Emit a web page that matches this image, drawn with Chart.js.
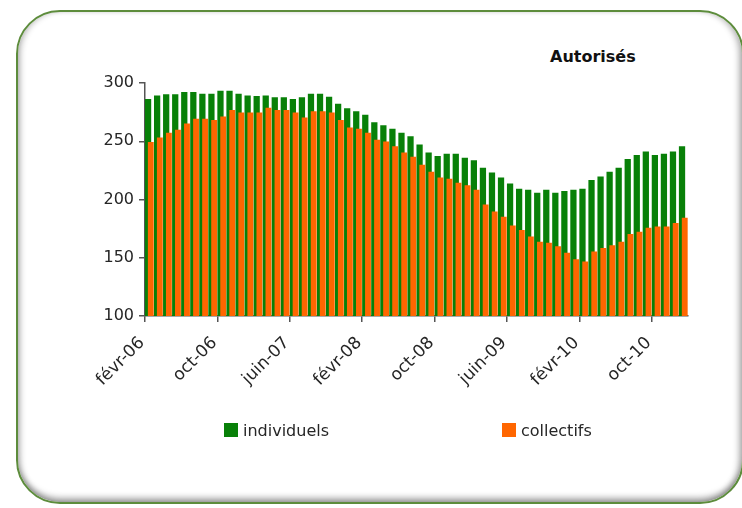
<!DOCTYPE html>
<html>
<head>
<meta charset="utf-8">
<script src="https://cdn.jsdelivr.net/npm/chart.js@4.4.0/dist/chart.umd.min.js"></script>
<style>
  html, body { margin: 0; padding: 0; background: #fff; }
  body { width: 742px; height: 508px; position: relative; overflow: hidden; font-family: "DejaVu Sans", sans-serif; color: #262626; }
  .frame {
    position: absolute; left: 16px; top: 10px; width: 728px; height: 494px;
    border: 2px solid #5d8c3c; border-radius: 44px; box-sizing: border-box;
    box-shadow: inset 0 -7px 6px -3px rgba(0,0,0,0.35), inset 5px 0 6px -3px rgba(0,0,0,0.3), inset -6px 0 6px -3px rgba(0,0,0,0.3);
  }
  .title { position: absolute; left: 550px; top: 47px; font-weight: bold; font-size: 16px; color: #111; }
  .chart-box { position: absolute; left: 0; top: 0; width: 742px; height: 508px; }
  .legend { position: absolute; top: 423px; font-size: 16px; line-height: 16px; }
  .legend span.sw { display: inline-block; width: 14px; height: 14px; vertical-align: top; margin-right: 5px; }
</style>
</head>
<body>
<div class="frame"></div>
<div class="title">Autorisés</div>
<div class="chart-box"><canvas id="chart"></canvas></div>
<div class="legend" style="left:224px"><span class="sw" style="background:#088008"></span>individuels</div>
<div class="legend" style="left:502px"><span class="sw" style="background:#ff6600"></span>collectifs</div>

<script>
// months from févr-06 to janv-11
const monthNames = ['janv', 'févr', 'mars', 'avr', 'mai', 'juin', 'juil', 'août', 'sept', 'oct', 'nov', 'déc'];
const months = [];
for (let k = 1; k <= 60; k++) {
  const y = 6 + Math.floor(k / 12);
  months.push(monthNames[k % 12] + '-' + String(y).padStart(2, '0'));
}

const individuels = [
  286, 289, 290, 290, 292, 292, 290.5, 290.5, 293, 293,
  290.5, 289, 288.5, 289, 287.5, 287.5, 286, 287.5, 290.5, 290.5,
  288, 282, 278, 275.5, 272.5, 266, 263.5, 260.5, 257, 254,
  247, 240, 237, 239, 239, 235.5, 233.5, 227, 223, 218.5,
  213.5, 209, 208, 205.5, 208, 205.5, 207, 208, 209, 216.5,
  219.5, 223.5, 227, 234.5, 238, 241, 238, 239, 241, 245.5
];
const collectifs = [
  249, 253, 257, 259.5, 265, 269, 269, 268, 271, 276.5,
  274.5, 274.5, 274.5, 278.5, 276.5, 276.5, 274.5, 270, 275.5, 275.5,
  274.5, 268, 261.5, 260.5, 257, 251, 249.5, 245.5, 240, 236.5,
  229.5, 223.5, 218.5, 217.5, 214, 212, 208, 195.5, 189.5, 185,
  177.5, 173.5, 168, 163.5, 162.5, 159.5, 154, 148.5, 146.5, 155,
  158, 160.5, 163.5, 170, 172, 175.5, 176.5, 176.5, 179.5, 184
];

const yTicks = [100, 150, 200, 250, 300];
const labelEvery = 8;

const green = '#088008';
const orange = '#ff6600';
const axisColor = '#555555';
const textColor = '#262626';

new Chart(document.getElementById('chart'), {
  type: 'bar',
  data: {
    datasets: [
      {
        label: 'collectifs',
        data: collectifs.map((v, i) => ({ x: i + 0.64, y: v })),
        backgroundColor: orange,
        barThickness: 5.2,
        grouped: false
      },
      {
        label: 'individuels',
        data: individuels.map((v, i) => ({ x: i + 0.34, y: v })),
        backgroundColor: green,
        barThickness: 5.6,
        grouped: false
      }
    ]
  },
  options: {
    responsive: true,
    maintainAspectRatio: false,
    animation: false,
    layout: { padding: { left: 90, right: 54, top: 83, bottom: 102 } },
    plugins: {
      legend: { display: false },
      tooltip: { enabled: false }
    },
    scales: {
      x: {
        type: 'linear',
        offset: false,
        min: 0,
        max: months.length,
        afterFit: (s) => { s.height = 90; },
        border: { color: axisColor, width: 1.5 },
        grid: { offset: false, drawOnChartArea: false, tickLength: 6, color: axisColor, lineWidth: 1.5 },
        ticks: {
          stepSize: labelEvery,
          includeBounds: false,
          autoSkip: false,
          minRotation: 45,
          maxRotation: 45,
          padding: 11,
          labelOffset: -3,
          color: textColor,
          font: { family: 'DejaVu Sans', size: 17 },
          callback: (v) => months[v] || ''
        }
      },
      y: {
        min: 100,
        max: 300,
        afterFit: (s) => { s.width = 55; },
        afterBuildTicks: (s) => { s.ticks = yTicks.map((v) => ({ value: v })); },
        border: { color: axisColor, width: 1.5 },
        grid: { drawOnChartArea: false, tickLength: 6, color: axisColor, lineWidth: 1.5 },
        ticks: {
          padding: 5,
          color: textColor,
          font: { family: 'DejaVu Sans', size: 16 }
        }
      }
    }
  }
});
</script>
</body>
</html>
